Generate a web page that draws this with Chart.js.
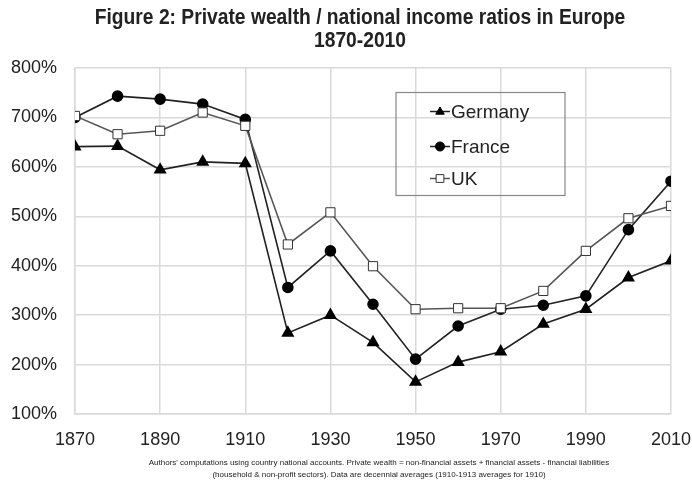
<!DOCTYPE html>
<html>
<head>
<meta charset="utf-8">
<script src="https://cdn.jsdelivr.net/npm/chart.js@4"></script>
<style>
    html, body { margin: 0; padding: 0; background: #fff; }
    #wrap { width: 692px; height: 487px; position: relative; }
</style>
</head>
<body>
<div id="wrap"><canvas id="wealthChart"></canvas></div>
<script>
const years = [1870, 1880, 1890, 1900, 1910, 1920, 1930, 1940, 1950, 1960, 1970, 1980, 1990, 2000, 2010];
const germany = [641, 642, 594, 610, 607, 264, 300, 245, 165, 205, 226, 282, 312, 376, 410];
const france = [700, 743, 737, 727, 696, 356, 430, 322, 211, 278, 312, 320, 339, 473, 571];
const uk = [703, 666, 673, 710, 683, 443, 508, 399, 312, 314, 314, 349, 430, 496, 521];

const titleLines = ["Figure 2: Private wealth / national income ratios in Europe", "1870-2010"];
const footerLines = [
    "Authors' computations using country national accounts. Private wealth = non-financial assets + financial assets - financial liabilities",
    "(household & non-profit sectors). Data are decennial averages (1910-1913 averages for 1910)"
];

const INK = "#222";
const GRID = "#dadada";

function toPoints(vals) {
    return years.map((y, i) => ({ x: y, y: vals[i] }));
}

function drawMarker(ctx, style, x, y, r, fill, stroke) {
    ctx.save();
    ctx.fillStyle = fill;
    ctx.strokeStyle = stroke;
    ctx.lineWidth = 1;
    ctx.beginPath();
    if (style === "triangle") {
        ctx.moveTo(x, y - r);
        ctx.lineTo(x + r * 0.95, y + r * 0.6);
        ctx.lineTo(x - r * 0.95, y + r * 0.6);
        ctx.closePath();
    } else if (style === "rect") {
        const s = r * Math.SQRT1_2;
        ctx.rect(x - s, y - s, 2 * s, 2 * s);
    } else {
        ctx.arc(x, y, r, 0, Math.PI * 2);
    }
    ctx.fill();
    ctx.stroke();
    ctx.restore();
}

// title, footer and the boxed legend inside the plot
const textPlugin = {
    id: "textPlugin",
    afterDraw(chart) {
        const ctx = chart.ctx;
        ctx.save();
        ctx.fillStyle = INK;
        ctx.textAlign = "center";
        ctx.textBaseline = "middle";
        // condensed bold title (no narrow font installed, so squeeze it)
        ctx.save();
        ctx.scale(0.875, 1);
        ctx.font = "bold 22px 'Liberation Sans', Arial, sans-serif";
        ctx.fillText(titleLines[0], 360 / 0.875, 18);
        ctx.fillText(titleLines[1], 360 / 0.875, 41);
        ctx.restore();

        ctx.font = "8px 'Liberation Sans', Arial, sans-serif";
        ctx.fillText(footerLines[0], 379, 463);
        ctx.fillText(footerLines[1], 379, 475);

        // legend
        ctx.strokeStyle = "#888";
        ctx.lineWidth = 1.2;
        ctx.strokeRect(396, 92.5, 169, 103);
        const rows = [111.5, 146.5, 178.5];
        ctx.textAlign = "left";
        ctx.font = "19px 'Liberation Sans', Arial, sans-serif";
        chart.data.datasets.forEach((ds, i) => {
            const y = rows[i];
            ctx.strokeStyle = ds.borderColor;
            ctx.lineWidth = 1.5;
            ctx.beginPath();
            ctx.moveTo(430, y);
            ctx.lineTo(450, y);
            ctx.stroke();
            drawMarker(ctx, ds.pointStyle, 440, y, ds.pointStyle === "rect" ? 5.5 : 4.5,
                ds.pointBackgroundColor, ds.pointBorderColor);
            ctx.fillStyle = INK;
            ctx.fillText(ds.label, 451, y + 1);
        });
        ctx.restore();
    }
};

const ctx = document.getElementById("wealthChart").getContext("2d");
new Chart(ctx, {
    type: "line",
    data: {
        datasets: [
            {
                label: "Germany",
                data: toPoints(germany),
                borderColor: "#222",
                borderWidth: 1.6,
                pointStyle: "triangle",
                pointRadius: 6,
                pointBackgroundColor: "#000",
                pointBorderColor: "#000",
                order: 3
            },
            {
                label: "France",
                data: toPoints(france),
                borderColor: "#222",
                borderWidth: 1.6,
                pointStyle: "circle",
                pointRadius: 5,
                pointBackgroundColor: "#000",
                pointBorderColor: "#000",
                order: 2
            },
            {
                label: "UK",
                data: toPoints(uk),
                borderColor: "#555",
                borderWidth: 1.6,
                pointStyle: "rect",
                pointRadius: 6.5,
                pointBackgroundColor: "#fff",
                pointBorderColor: "#333",
                pointBorderWidth: 1,
                order: 1
            }
        ]
    },
    options: {
        responsive: true,
        maintainAspectRatio: false,
        animation: false,
        layout: { padding: { top: 68, right: 21, bottom: 33, left: 0 } },
        plugins: {
            legend: { display: false },
            title: { display: false },
            tooltip: { enabled: false }
        },
        scales: {
            x: {
                type: "linear",
                min: 1870,
                max: 2010,
                afterBuildTicks: (axis) => {
                    axis.ticks = [1870, 1890, 1910, 1930, 1950, 1970, 1990, 2010].map(v => ({ value: v }));
                },
                afterFit: (axis) => {
                    axis.height = 40;
                    axis.paddingLeft = 0;
                    axis.paddingRight = 0;
                },
                grid: { color: GRID, lineWidth: 1.5, drawTicks: false },
                border: { color: GRID, width: 1.5 },
                ticks: {
                    color: INK,
                    padding: 15,
                    maxRotation: 0,
                    font: { family: "'Liberation Sans', Arial, sans-serif", size: 18 },
                    callback: (v) => String(v)
                }
            },
            y: {
                min: 100,
                max: 800,
                afterFit: (axis) => { axis.width = 75; },
                grid: { color: GRID, lineWidth: 1.5, drawTicks: false },
                border: { color: GRID, width: 1.5 },
                ticks: {
                    stepSize: 100,
                    color: INK,
                    padding: 18,
                    font: { family: "'Liberation Sans', Arial, sans-serif", size: 18 },
                    callback: (v) => v + "%"
                }
            }
        }
    },
    plugins: [textPlugin]
});
</script>
</body>
</html>
